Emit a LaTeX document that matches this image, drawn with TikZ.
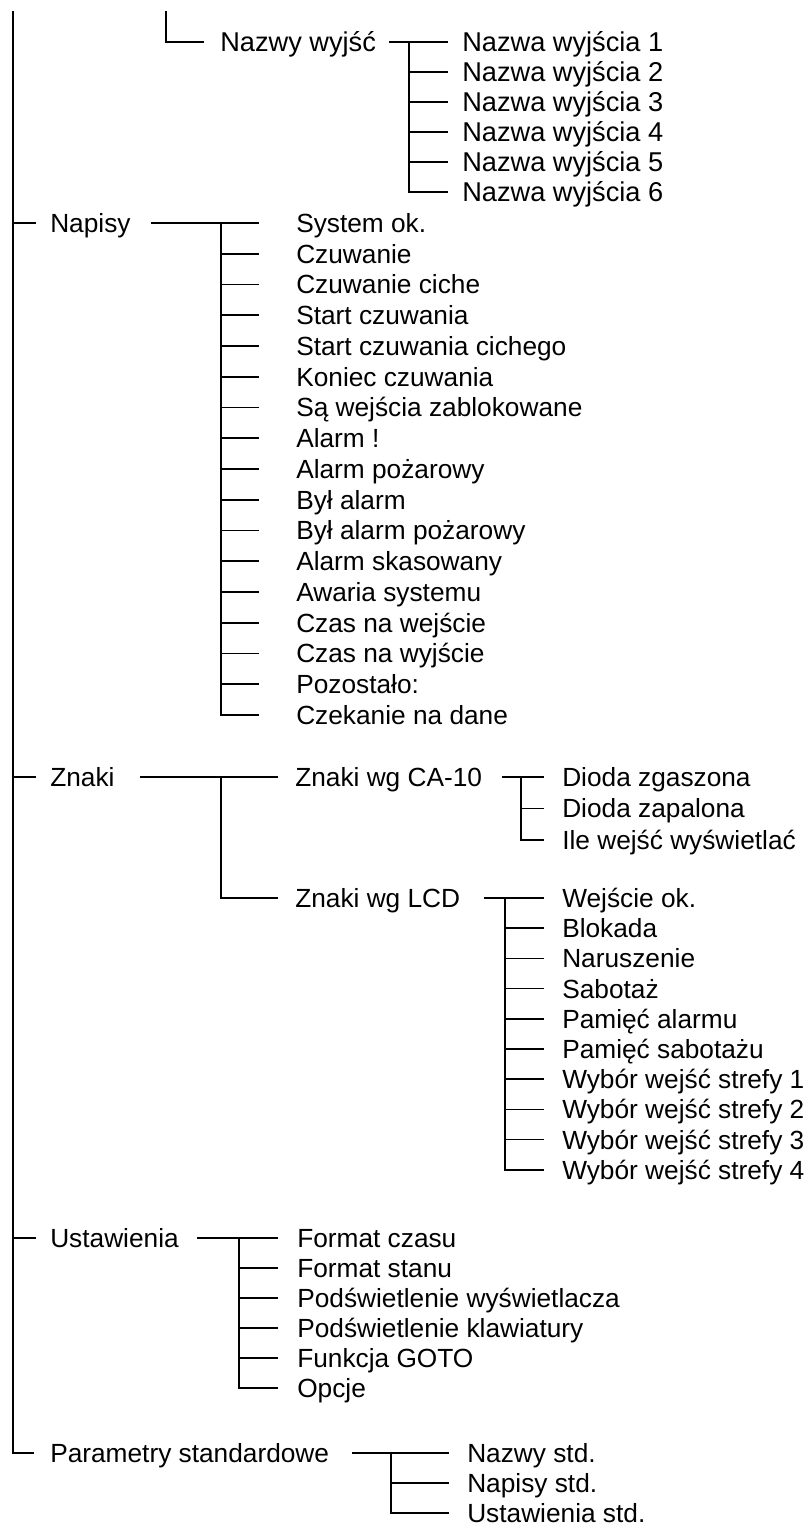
\documentclass[tikz,border=0pt]{standalone}
\usepackage{fontspec}
\setmainfont{Liberation Sans}
\begin{document}
\begin{tikzpicture}[x=0.75pt,y=-0.75pt,
  lbl/.style={anchor=west,inner sep=0pt,font=\fontsize{19.7}{23}\selectfont,text height=14.1pt,text depth=0pt},
  lblbig/.style={lbl,font=\fontsize{20.4}{24}\selectfont,text height=14.6pt},
  conn/.style={line width=1.2pt,line cap=rect}]
\useasboundingbox (0,0) rectangle (807,1526);

% ---- top fragment
\coordinate (top) at (13,12);
\coordinate (Ltop) at (166,12);
\node[lblbig] (nw) at (220,42) {Nazwy wyjść};
\foreach \i in {1,...,6}
  \node[lblbig] (nw\i) at (462,{42+30*(\i-1)}) {Nazwa wyjścia \i};
\coordinate (nwS) at (390,42);
\coordinate (nwB) at (409,42);
\draw[conn] (Ltop) |- ([xshift=-12.75pt]nw.west);
\draw[conn] (nwS) -- ([xshift=-11.25pt]nw1.west);
\draw[conn] (nwB |- nw1.west) |- ([xshift=-11.25pt]nw6.west);
\foreach \i in {2,...,5}
  \draw[conn] (nwB |- nw\i.west) -- ([xshift=-11.25pt]nw\i.west);

% ---- Napisy
\node[lbl] (np) at (50,223) {Napisy};
\foreach \t [count=\i] in {System ok., Czuwanie, Czuwanie ciche, Start czuwania,
  Start czuwania cichego, Koniec czuwania, Są wejścia zablokowane, Alarm !,
  Alarm pożarowy, Był alarm, Był alarm pożarowy, Alarm skasowany, Awaria systemu,
  Czas na wejście, Czas na wyjście, Pozostało:, Czekanie na dane}
  \node[lbl] (np\i) at (296,{223+30.75*(\i-1)}) {\t};
\coordinate (npS) at (152,223);
\coordinate (npB) at (221,223);
\draw[conn] (npS) -- ([xshift=-28.5pt]np1.west);
\draw[conn] (npB |- np1.west) |- ([xshift=-28.5pt]np17.west);
\foreach \i in {2,...,16}
  \draw[conn] (npB |- np\i.west) -- ([xshift=-28.5pt]np\i.west);

% ---- Znaki
\node[lbl] (zn) at (50,777) {Znaki};
\node[lbl] (zn1) at (295,777) {Znaki wg CA-10};
\node[lbl] (zn2) at (295,898) {Znaki wg LCD};
\coordinate (znS) at (141,777);
\coordinate (znB) at (221,777);
\draw[conn] (znS) -- ([xshift=-13.5pt]zn1.west);
\draw[conn] (znB |- zn1.west) |- ([xshift=-13.5pt]zn2.west);

\foreach \t [count=\i] in {Dioda zgaszona, Dioda zapalona, Ile wejść wyświetlać}
  \node[lbl] (ca\i) at (562,{777+31.5*(\i-1)}) {\t};
\coordinate (caS) at (503,777);
\coordinate (caB) at (521,777);
\draw[conn] (caS) -- ([xshift=-14.25pt]ca1.west);
\draw[conn] (caB |- ca1.west) |- ([xshift=-14.25pt]ca3.west);
\draw[conn] (caB |- ca2.west) -- ([xshift=-14.25pt]ca2.west);

\foreach \t [count=\i] in {Wejście ok., Blokada, Naruszenie, Sabotaż, Pamięć alarmu,
  Pamięć sabotażu, Wybór wejść strefy 1, Wybór wejść strefy 2,
  Wybór wejść strefy 3, Wybór wejść strefy 4}
  \node[lbl] (lc\i) at (562,{898+30.2*(\i-1)}) {\t};
\coordinate (lcS) at (485,898);
\coordinate (lcB) at (505,898);
\draw[conn] (lcS) -- ([xshift=-14.25pt]lc1.west);
\draw[conn] (lcB |- lc1.west) |- ([xshift=-14.25pt]lc10.west);
\foreach \i in {2,...,9}
  \draw[conn] (lcB |- lc\i.west) -- ([xshift=-14.25pt]lc\i.west);

% ---- Ustawienia
\node[lbl] (us) at (50,1238) {Ustawienia};
\foreach \t [count=\i] in {Format czasu, Format stanu, Podświetlenie wyświetlacza,
  Podświetlenie klawiatury, Funkcja GOTO, Opcje}
  \node[lbl] (us\i) at (297,{1238+30*(\i-1)}) {\t};
\coordinate (usS) at (198,1238);
\coordinate (usB) at (239,1238);
\draw[conn] (usS) -- ([xshift=-15pt]us1.west);
\draw[conn] (usB |- us1.west) |- ([xshift=-15pt]us6.west);
\foreach \i in {2,...,5}
  \draw[conn] (usB |- us\i.west) -- ([xshift=-15pt]us\i.west);

% ---- Parametry standardowe
\node[lbl] (pa) at (50,1453) {Parametry standardowe};
\foreach \t [count=\i] in {Nazwy std., Napisy std., Ustawienia std.}
  \node[lbl] (pa\i) at (467,{1453+30*(\i-1)}) {\t};
\coordinate (paS) at (353,1453);
\coordinate (paB) at (391,1453);
\draw[conn] (paS) -- ([xshift=-14.25pt]pa1.west);
\draw[conn] (paB |- pa1.west) |- ([xshift=-14.25pt]pa3.west);
\draw[conn] (paB |- pa2.west) -- ([xshift=-14.25pt]pa2.west);

% ---- main spine
\draw[conn] (top) |- ([xshift=-12.75pt]pa.west);
\foreach \n in {np,zn,us}
  \draw[conn] (top |- \n.west) -- ([xshift=-11.25pt]\n.west);
\end{tikzpicture}
\end{document}
